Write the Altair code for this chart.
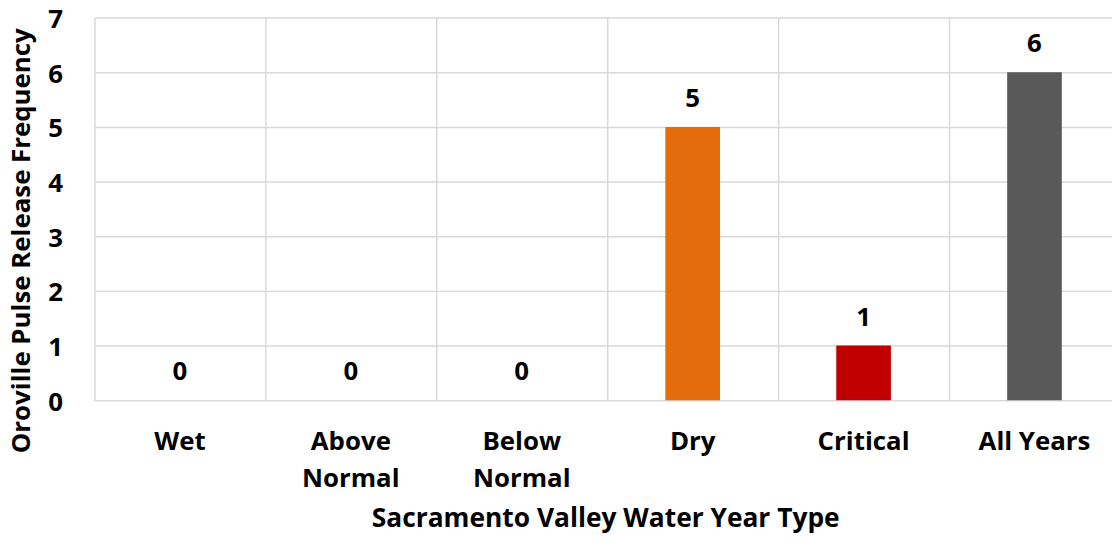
import altair as alt
import pandas as pd

categories = ["Wet", "Above Normal", "Below Normal", "Dry", "Critical", "All Years"]
frequency = [0, 0, 0, 5, 1, 6]
bar_colors = ["#4472C4", "#70AD47", "#FFC000", "#E46C0A", "#C00000", "#595959"]

df = pd.DataFrame({"type": categories, "freq": frequency})

FONT = "Open Sans"
FS = 26

x_enc = alt.X(
    "type:N",
    sort=categories,
    scale=alt.Scale(paddingInner=0, paddingOuter=0),
    axis=alt.Axis(
        title="Sacramento Valley Water Year Type",
        labelExpr="indexof(datum.label, 'Normal') > 0 ? split(datum.label, ' ') : datum.label",
        labelAngle=0,
        labelPadding=50,
        labelLineHeight=37,
        labelBaseline="alphabetic",
        bandPosition=0,
        grid=True,
        gridColor="#d9d9d9",
        gridWidth=1.5,
        ticks=False,
        domain=False,
        titleY=133,
        titleX=514,
        titleBaseline="bottom",
        titleFontSize=26.5,
    ),
)

base = alt.Chart(df).encode(
    x=x_enc,
    y=alt.Y(
        "freq:Q",
        scale=alt.Scale(domain=[0, 7], nice=False),
        axis=alt.Axis(
            title="Oroville Pulse Release Frequency",
            values=[0, 1, 2, 3, 4, 5, 6, 7],
            grid=True,
            gridColor="#d9d9d9",
            gridWidth=1.5,
            ticks=False,
            domain=False,
            labelPadding=32,
            labelOffset=2,
            titleX=-73,
            titleY=224,
            titleAngle=-90,
            titleBaseline="middle",
            titleAlign="center",
            titleFontSize=26,
        ),
    ),
)

bars = base.mark_bar(width=55).encode(
    color=alt.Color("type:N", scale=alt.Scale(domain=categories, range=bar_colors), legend=None)
)

labels = base.mark_text(
    dy=-20, baseline="alphabetic", font=FONT, fontSize=FS, fontWeight="bold", color="#000000"
).encode(text="freq:Q")

chart = (
    alt.layer(bars, labels)
    .properties(
        width=1032,
        height=385,
        autosize=alt.AutoSizeParams(type="none"),
        padding={"left": 87, "top": 8, "right": -8, "bottom": 134},
    )
    .configure_axis(
        labelFont=FONT,
        labelFontSize=FS,
        labelFontWeight="bold",
        labelColor="#000000",
        titleFont=FONT,
        titleFontWeight="bold",
        titleColor="#000000",
    )
    .configure_view(stroke=None)
)

chart.save("out.html", embed_options={"renderer": "svg", "actions": False})
